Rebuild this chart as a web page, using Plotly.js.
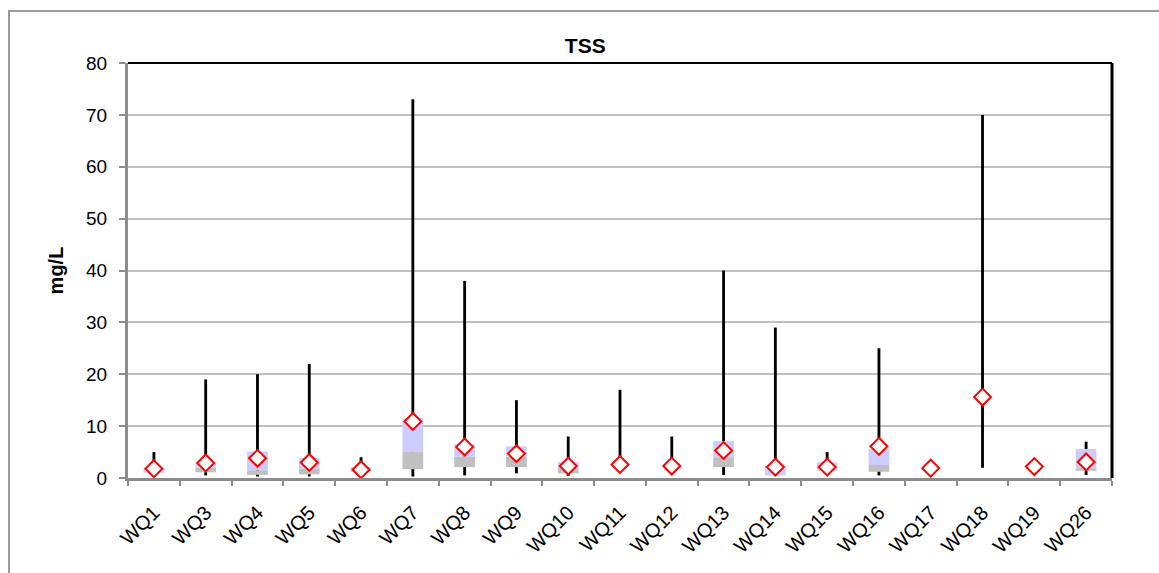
<!DOCTYPE html>
<html>
<head>
<meta charset="utf-8">
<script src="https://cdn.plot.ly/plotly-3.0.1.min.js"></script>
<style>
  html, body { margin: 0; padding: 0; background: #fff; }
  #chart { width: 1159px; height: 573px; }
  #frame {
    position: absolute; left: 8px; top: 10px; width: 1300px; height: 700px;
    border-left: 2px solid #9a9a9a; border-top: 2px solid #9a9a9a;
    pointer-events: none;
  }
</style>
</head>
<body>
<div id="chart"></div>
<div id="frame"></div>
<script>
// Monitoring sites
const sites = ["WQ1","WQ3","WQ4","WQ5","WQ6","WQ7","WQ8","WQ9","WQ10","WQ11",
               "WQ12","WQ13","WQ14","WQ15","WQ16","WQ17","WQ18","WQ19","WQ26"];

// TSS summary statistics (mg/L)
const minVals    = [1.0, 0.5, 0.3, 0.3, 1.2, 0.3, 0.5, 0.9, 0.4, 2.0, 2.0, 0.6, 0.5, 1.4, 0.5, null, 2.0, null, 0.6];
const q1Vals     = [1.0, 1.1, 0.6, 0.7, 1.2, 1.7, 2.1, 2.1, 0.9, null, null, 2.1, 0.5, 1.4, 1.2, null, null, null, 1.4];
const medianVals = [1.1, 2.0, 1.5, 1.8, 1.3, 5.0, 4.1, 4.1, 1.9, null, null, 4.0, 0.6, 1.6, 2.5, null, null, null, 1.9];
const q3Vals     = [2.0, 3.0, 5.1, 3.9, 2.1, 11.5, 6.5, 6.1, 3.1, null, null, 7.1, 2.3, 3.0, 5.6, null, null, null, 5.6];
const maxVals    = [5, 19, 20, 22, 4, 73, 38, 15, 8, 17, 8, 40, 29, 5, 25, null, 70, null, 7];
const meanVals   = [1.8, 2.9, 3.8, 3.0, 1.6, 10.9, 6.0, 4.7, 2.3, 2.6, 2.3, 5.3, 2.1, 2.1, 6.1, 1.9, 15.6, 2.2, 3.1];

const yTicks = [0, 10, 20, 30, 40, 50, 60, 70, 80];

const span = (lo, hi) => lo.map((v, i) => (v == null || hi[i] == null) ? null : hi[i] - v);

const traces = [
  { // whisker: min to max
    type: "bar", x: sites, base: minVals, y: span(minVals, maxVals),
    width: 0.055, marker: { color: "#000000" }, hoverinfo: "skip", showlegend: false
  },
  { // lower box: Q1 to median
    type: "bar", x: sites, base: q1Vals, y: span(q1Vals, medianVals),
    width: 0.4, marker: { color: "#C0C0C0" }, showlegend: false
  },
  { // upper box: median to Q3
    type: "bar", x: sites, base: medianVals, y: span(medianVals, q3Vals),
    width: 0.4, marker: { color: "#CCCCFF" }, showlegend: false
  },
  { // mean
    type: "scatter", mode: "markers", x: sites, y: meanVals,
    marker: { symbol: "diamond", size: 13, color: "#ffffff", line: { color: "#FF0000", width: 2 } },
    showlegend: false
  }
];

const layout = {
  width: 1159, height: 573,
  margin: { l: 128, r: 47, t: 63, b: 95 },
  paper_bgcolor: "#ffffff", plot_bgcolor: "#ffffff",
  font: { family: "Liberation Sans, Arial, sans-serif", size: 19, color: "#000" },
  barmode: "overlay",
  title: {
    text: "<b>TSS</b>", font: { size: 21, color: "#000" },
    x: 0.505, xanchor: "center", y: 0.921, yanchor: "middle"
  },
  xaxis: {
    type: "category", categoryorder: "array", categoryarray: sites,
    range: [-0.5, sites.length - 0.5],
    tickangle: -45, tickson: "boundaries", ticks: "outside", ticklen: 5,
    tickcolor: "#8c8c8c", tickwidth: 2,
    showline: true, linecolor: "#8c8c8c", linewidth: 3,
    showgrid: false, zeroline: false, fixedrange: true,
    ticklabelstandoff: 12,
    tickfont: { size: 20 }
  },
  yaxis: {
    range: [0, 80], tickvals: yTicks, ticktext: yTicks.map(String),
    ticks: "outside", ticklen: 6, tickcolor: "#8c8c8c", tickwidth: 2,
    showline: true, linecolor: "#8c8c8c", linewidth: 3,
    showgrid: true, gridcolor: "#c0c0c0", gridwidth: 2,
    zeroline: false, fixedrange: true,
    ticklabelstandoff: 8,
    title: { text: "<b>mg/L</b>", font: { size: 20 }, standoff: 18 },
    tickfont: { size: 19 }
  },
  shapes: [
    { type: "line", xref: "paper", yref: "paper", x0: 0, x1: 1, y0: 1, y1: 1,
      line: { color: "#000", width: 2 } },
    { type: "line", xref: "paper", yref: "paper", x0: 1, x1: 1, y0: 0, y1: 1,
      line: { color: "#000", width: 3 } }
  ]
};

Plotly.newPlot("chart", traces, layout, { displayModeBar: false, staticPlot: true });
</script>
</body>
</html>
